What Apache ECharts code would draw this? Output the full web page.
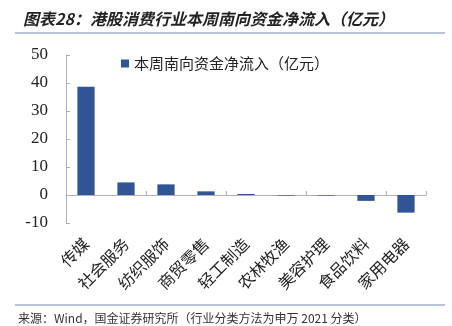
<!DOCTYPE html>
<html>
<head>
<meta charset="utf-8">
<script src="https://cdn.jsdelivr.net/npm/echarts@6/dist/echarts.min.js"></script>
<style>
  html, body { margin: 0; padding: 0; background: #fff; }
  #chart { width: 452px; height: 326px; }
</style>
</head>
<body>
<div id="chart"></div>
<script>
// 行业分类与本周南向资金净流入（亿元）
const categories = ['传媒', '社会服务', '纺织服饰', '商贸零售', '轻工制造', '农林牧渔', '美容护理', '食品饮料', '家用电器'];
const netInflow = [38.7, 4.5, 3.8, 1.3, 0.35, -0.2, -0.2, -2.1, -6.3];
const seriesName = '本周南向资金净流入（亿元）';
const yTicks = { min: -10, max: 50, interval: 10 };

const titleText = '图表28：港股消费行业本周南向资金净流入（亿元）';
const sourceText = '来源：Wind，国金证券研究所（行业分类方法为申万 2021 分类）';

const chart = echarts.init(document.getElementById('chart'), null, { renderer: 'canvas' });
const cjk = '"Noto Sans CJK SC", "Noto Sans", sans-serif';
const axisGray = '#b0b0b0';

chart.setOption({
  animation: false,
  backgroundColor: '#fff',
  title: {
    text: titleText,
    left: 18,
    top: 6,
    textStyle: { fontFamily: cjk, fontSize: 16, fontStyle: 'italic', fontWeight: 'bold', color: '#222' }
  },
  graphic: [
    { type: 'line', shape: { x1: 15, y1: 33, x2: 445, y2: 33 }, style: { stroke: '#9fb4cf', lineWidth: 1.5 } },
    { type: 'line', shape: { x1: 15, y1: 305, x2: 445, y2: 305 }, style: { stroke: '#9fb4cf', lineWidth: 1.5 } },
    { type: 'text', left: 18, top: 312, style: { text: sourceText, font: '12px ' + cjk, fill: '#333' } }
  ],
  legend: {
    data: [seriesName],
    left: 116,
    top: 51,
    itemWidth: 8,
    itemHeight: 8,
    icon: 'rect',
    itemGap: 4,
    textStyle: { fontFamily: cjk, fontSize: 15, color: '#222' }
  },
  grid: { left: 66, right: 26, top: 55, bottom: 103, containLabel: false },
  xAxis: [
    {
      type: 'category',
      data: categories,
      position: 'bottom',
      axisLine: { show: false, onZero: false },
      axisTick: { show: false },
      axisLabel: { rotate: 45, margin: 18, fontFamily: cjk, fontSize: 16, color: '#222', interval: 0 }
    },
    {
      type: 'category',
      data: categories,
      position: 'bottom',
      axisLine: { show: true, onZero: true, lineStyle: { color: axisGray, width: 1 } },
      axisTick: { show: true, inside: true, length: 4, lineStyle: { color: axisGray } },
      axisLabel: { show: false }
    }
  ],
  yAxis: {
    type: 'value',
    min: yTicks.min,
    max: yTicks.max,
    interval: yTicks.interval,
    axisLine: { show: true, lineStyle: { color: axisGray, width: 1 } },
    axisTick: { show: true, inside: true, length: 4, lineStyle: { color: axisGray } },
    splitLine: { show: false },
    axisLabel: { margin: 18, fontFamily: '"Liberation Serif", serif', fontSize: 17, color: '#222' }
  },
  series: [
    {
      name: seriesName,
      type: 'bar',
      xAxisIndex: 0,
      data: netInflow,
      barWidth: '43%',
      itemStyle: { color: '#2f5597' }
    }
  ]
});
</script>
</body>
</html>
